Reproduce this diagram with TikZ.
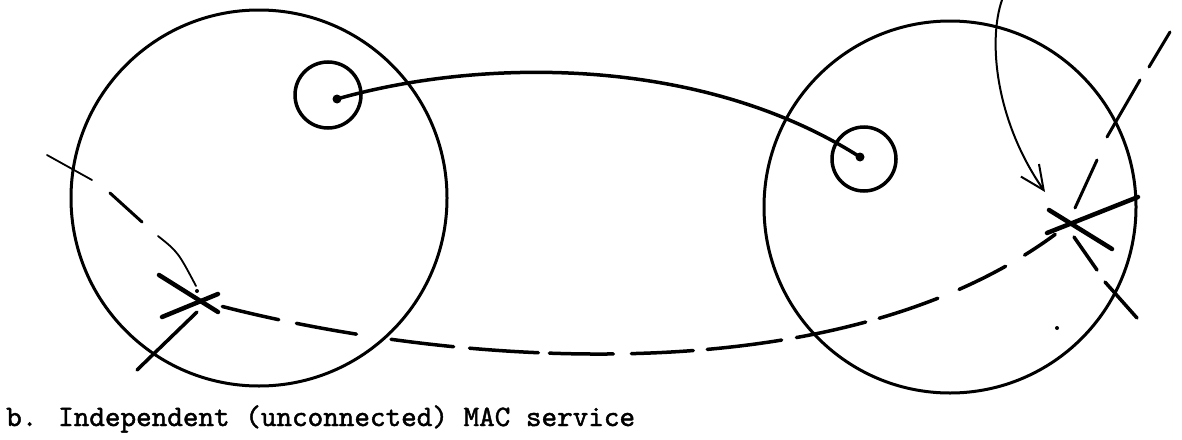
\documentclass[tikz,border=0pt]{standalone}
\usepackage{fontspec}
\newfontfamily\typew[FakeBold=1.5]{lmmono10-regular.otf}
\usetikzlibrary{arrows.meta}
\begin{document}
\begin{tikzpicture}[x=1pt,y=-1pt,
  line cap=round,
  bigring/.style={draw, circle, line width=3pt, inner sep=0pt, outer sep=0pt},
  smallring/.style={draw, circle, line width=3.5pt, inner sep=0pt, outer sep=0pt},
  dotn/.style={fill, circle, inner sep=0pt, minimum size=9pt},
  solidlink/.style={line width=3.5pt},
  dashlink/.style={line width=3.5pt},
  crossline/.style={line width=4.5pt},
  thinline/.style={line width=2pt},
  capt/.style={anchor=base west, inner sep=0pt, font=\typew\fontsize{29.7}{34}\selectfont}]
\useasboundingbox (0,0) rectangle (1182,439);
% big circles
\node[bigring, minimum size=376pt] (L) at (259,198) {};
\node[bigring, minimum size=372pt] (R) at (950,207) {};
% small circles and dots
\node[smallring, minimum size=66pt] (sL) at (328,95) {};
\node[smallring, minimum size=64pt] (sR) at (864,159) {};
\node[dotn] (dL) at (337,99) {};
\node[dotn] (dR) at (860,157) {};
% crossings
\coordinate (xL) at (201,301);
\coordinate (xR) at (1070,223);
% solid connection
\draw[solidlink] (dL.center) .. controls (480,58) and (700,55) .. (dR.center);
% long dashed connection
\draw[dashlink, shorten <=22pt, dash pattern=on 58pt off 18pt on 61pt off 35pt on 63pt off 16pt on 69pt off 11pt on 64pt off 18pt on 62pt off 14pt on 75pt off 15pt on 71pt off 14pt on 62pt off 23pt on 52pt off 22pt on 37pt off 80pt]
  (xL) .. controls (450,365) and (850,400) .. (xR);
% left cross
\draw[crossline] (159,275) -- (218,312);
\draw[crossline] (162,317) -- (218,294);
\draw[line width=3.5pt] (197,312) -- (137,370);
% top-left dashed arc
\coordinate (tl) at (47,155);
\draw[line width=1.8pt] (tl) -- (92,180);
\draw[line width=3pt] (110,193) -- (142,222);
\draw[line width=1.8pt] (158,236) .. controls (178,252) .. (196,286);
\fill (197,291) circle (2pt);
% right cross
\draw[crossline] (1049,210) -- (1112,249);
\draw[crossline] (1047,233) -- (1138,197);
% up-right dashed line
\draw[line width=3pt] (1075,208) -- (1097,160);
\draw[line width=3pt] (1107,137) -- (1140,80);
\draw[line width=3pt] (1149,67) -- (1170,32);
% down-right dashed line
\draw[line width=3.5pt] (1074,237) -- (1097,270);
\draw[line width=3.5pt] (1105,282) -- (1137,318);
% arrow from top
\coordinate (atop) at (1002,0);
\coordinate (atip) at (1045,192);
\draw[thinline, -{Straight Barb[length=24pt,width=22pt]}] (atop) .. controls (988,40) and (995,120) .. (atip);
% stray dot
\fill (1057,328) circle (2pt);
% caption
\node[capt] (cap) at (6,426) {b. Independent (unconnected) MAC service};
\end{tikzpicture}
\end{document}
